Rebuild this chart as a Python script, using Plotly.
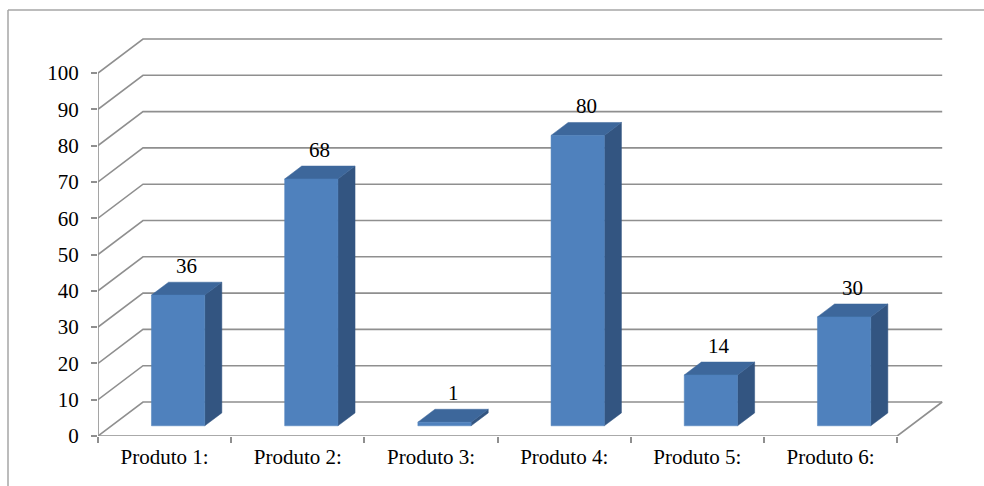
import plotly.graph_objects as go

# Sales per product
categories = ["Produto 1:", "Produto 2:", "Produto 3:", "Produto 4:", "Produto 5:", "Produto 6:"]
values = [36, 68, 1, 80, 14, 30]
y_ticks = list(range(0, 101, 10))

# --- geometry of the pseudo-3D frame (axis units) ---
W, H = 984, 486
ML, MR, MT, MB = 98, 30, 30, 50
PX_PER_CAT = 133.2          # pixels per category slot
PX_PER_VAL = 3.63           # pixels per value unit
DEPTH_PX = (45, -34)        # back-wall offset in pixels
DX = DEPTH_PX[0] / PX_PER_CAT
DY = -DEPTH_PX[1] / PX_PER_VAL
x_lo = -0.5
x_hi = x_lo + (W - ML - MR) / PX_PER_CAT
y_hi = (H - MT - MB) / PX_PER_VAL

n = len(categories)
GRID = "#8f8f8f"
FRONT = "#4f81bd"
SIDE = "#335581"
TOP = "#3d679b"
BAR_HALF = 0.2
D1, D2 = 0.30, 0.68          # bar depth span (fraction of the floor depth)
FONT = "Liberation Serif"

fig = go.Figure()

def line(xs, ys, color=GRID, width=1.6):
    fig.add_trace(go.Scatter(x=xs, y=ys, mode="lines", line=dict(color=color, width=width),
                             hoverinfo="skip", showlegend=False))

# back wall gridlines and side-wall diagonals
for v in y_ticks:
    line([x_lo, x_lo + DX, n - 0.5 + DX], [v, v + DY, v + DY])
# floor: front edge, right edge
line([x_lo, n - 0.5, n - 0.5 + DX], [0, 0, DY])
# front value axis
line([x_lo, x_lo], [0, y_ticks[-1]])

def poly(xs, ys, color):
    fig.add_trace(go.Scatter(x=xs + [xs[0]], y=ys + [ys[0]], mode="lines", fill="toself",
                             fillcolor=color, line=dict(color=color, width=0.5),
                             hoverinfo="skip", showlegend=False))

for i, v in enumerate(values):
    fx0 = i - BAR_HALF + D1 * DX
    fx1 = i + BAR_HALF + D1 * DX
    fy0 = D1 * DY
    fy1 = v + D1 * DY
    ox, oy = (D2 - D1) * DX, (D2 - D1) * DY
    # side face
    poly([fx1, fx1 + ox, fx1 + ox, fx1], [fy0, fy0 + oy, fy1 + oy, fy1], SIDE)
    # top face
    poly([fx0, fx1, fx1 + ox, fx0 + ox], [fy1, fy1, fy1 + oy, fy1 + oy], TOP)
    # front face
    poly([fx0, fx1, fx1, fx0], [fy0, fy0, fy1, fy1], FRONT)
    # value label centred over the bar
    fig.add_annotation(x=i + (D1 + D2) / 2 * DX, y=fy1 + oy, text=str(v), showarrow=False,
                       yanchor="bottom", yshift=2, font=dict(family=FONT, size=21, color="#000"))

gray_px = dict(xref="paper", yref="paper")
pw, ph = W - ML - MR, H - MT - MB
# outer chart border (left and top edges)
fig.add_shape(type="line", x0=(8 - ML) / pw, x1=(W + 5 - ML) / pw,
              y0=1 + (MT - 10) / ph, y1=1 + (MT - 10) / ph, line=dict(color="#a6a6a6", width=1.5), **gray_px)
fig.add_shape(type="line", x0=(8 - ML) / pw, x1=(8 - ML) / pw,
              y0=1 + (MT - 10) / ph, y1=-(MB + 5) / ph, line=dict(color="#a6a6a6", width=1.5), **gray_px)

fig.update_layout(
    width=W, height=H,
    margin=dict(l=ML, r=MR, t=MT, b=MB),
    paper_bgcolor="white", plot_bgcolor="white",
    xaxis=dict(range=[x_lo, x_hi], tickvals=list(range(n)), ticktext=categories,
               showgrid=False, zeroline=False, showline=False, ticks="",
               ticklabelstandoff=6,
               tickfont=dict(family=FONT, size=21, color="#000"),
               minor=dict(tickvals=[k - 0.5 for k in range(n + 1)], ticks="outside",
                          ticklen=6, tickwidth=1.6, tickcolor=GRID, showgrid=False)),
    yaxis=dict(range=[0, y_hi], tickvals=y_ticks, showgrid=False, zeroline=False,
               showline=False, ticks="outside", ticklen=6, tickwidth=1.6, tickcolor=GRID,
               ticklabelstandoff=8,
               tickfont=dict(family=FONT, size=21, color="#000")),
)

fig.write_html("out.html")
